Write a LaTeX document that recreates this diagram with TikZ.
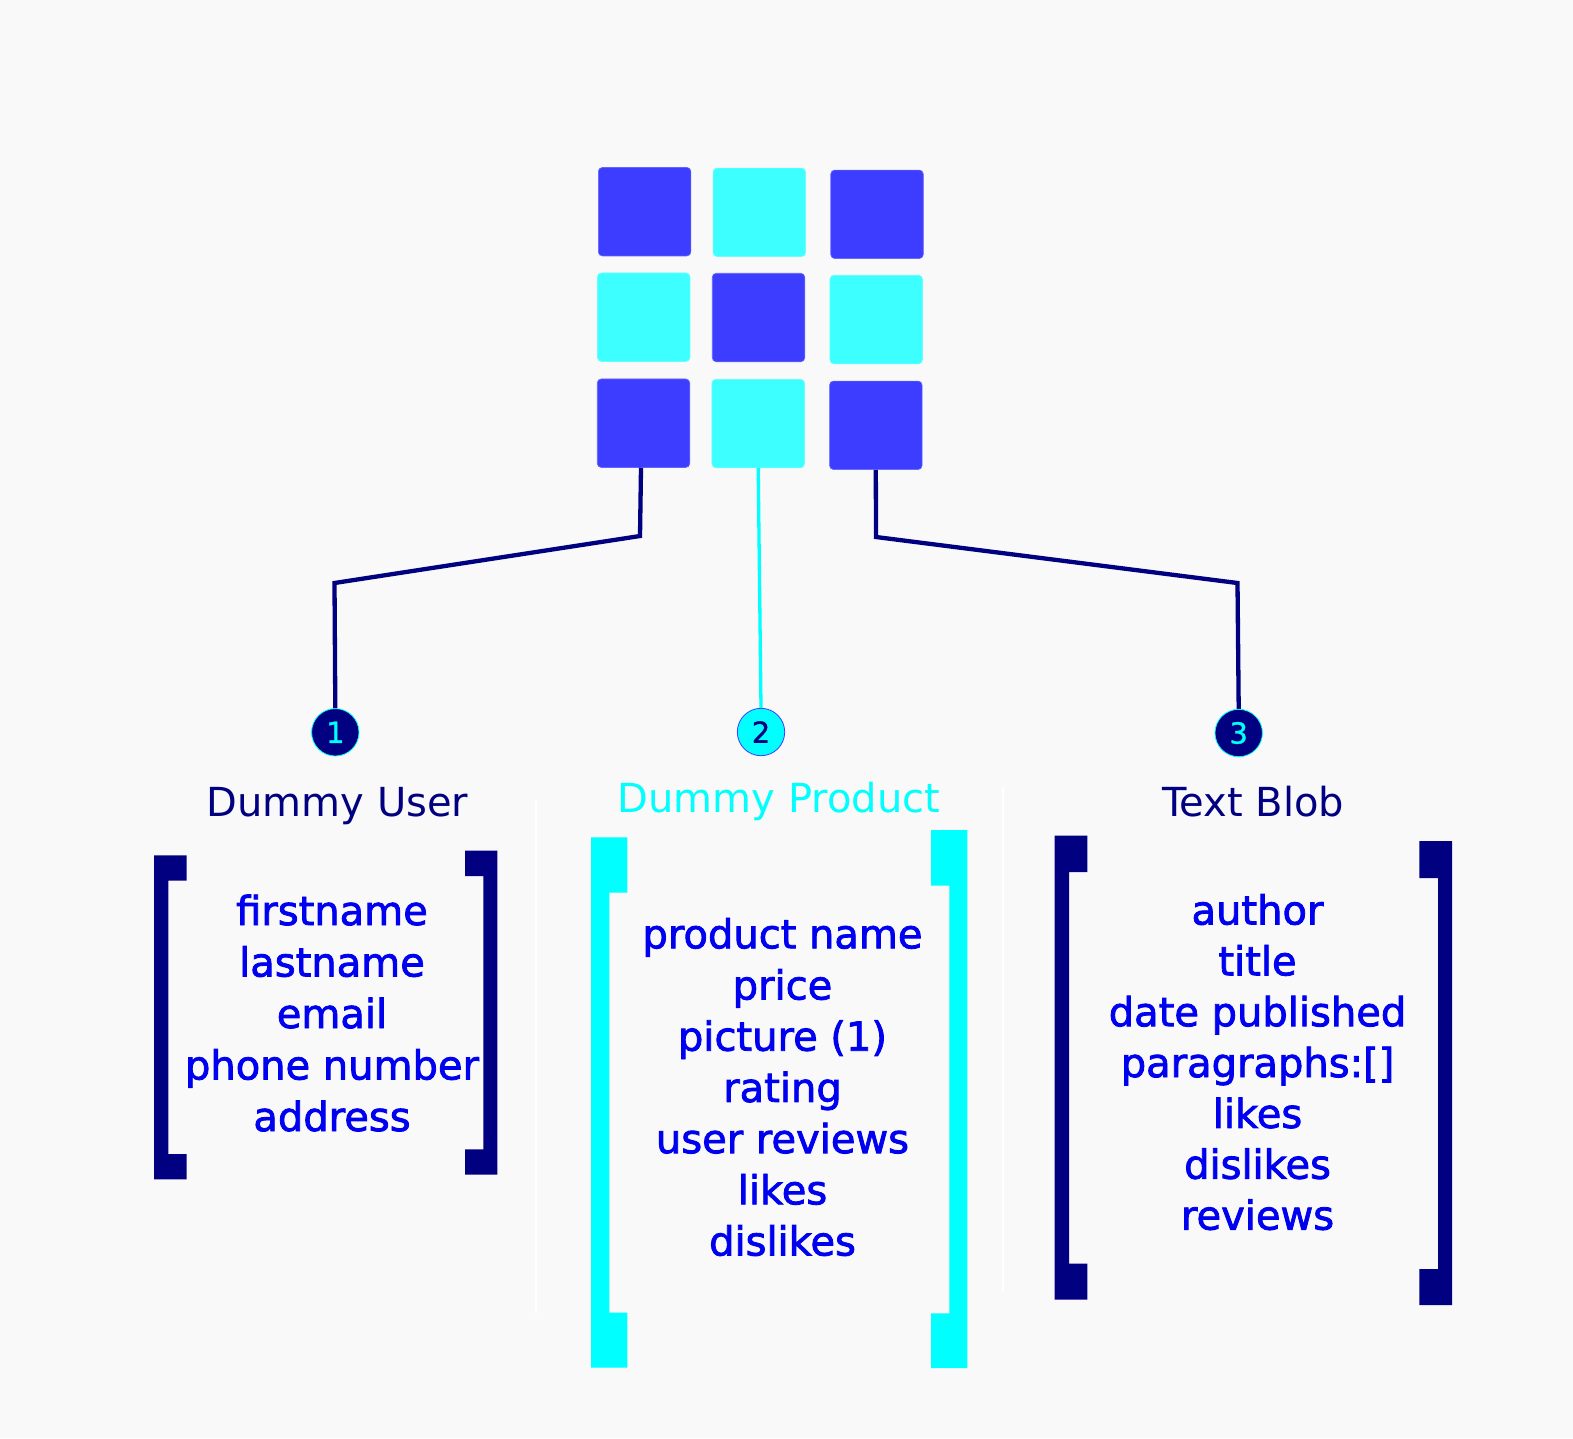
\documentclass[tikz,border=0pt]{standalone}
\usepackage{fontspec}
\setmainfont{DejaVu Sans}
\newfontfamily\listfont[FakeBold=2]{DejaVu Sans}
\newfontfamily\numfont[FakeBold=1]{DejaVu Sans}
\definecolor{bgc}{HTML}{F9F9F9}
\definecolor{sqdark}{HTML}{3D3DFF}
\definecolor{sqlight}{HTML}{3DFFFF}
\definecolor{navyc}{HTML}{000080}
\definecolor{cyanc}{HTML}{00FFFF}
\definecolor{itemc}{HTML}{0000F0}
\begin{document}
\begin{tikzpicture}[x=1pt,y=-1pt,
  sq/.style={inner sep=0pt, minimum width=92.5pt, minimum height=88.5pt, rounded corners=4pt},
  sqd/.style={sq, fill=sqdark, draw=sqdark!80!white, line width=0.6pt},
  sql/.style={sq, fill=sqlight, draw=sqlight!80!white, line width=0.6pt},
  conn/.style={draw=navyc, line width=4.3pt, line join=miter},
  conncyan/.style={draw=cyanc, line width=3.3pt},
  numdark/.style={circle, fill=navyc, draw=cyanc, line width=0.8pt, minimum size=47.4pt, inner sep=0pt, text=cyanc, font=\numfont\fontsize{29}{30}\selectfont},
  numlight/.style={circle, fill=cyanc, draw=sqdark, line width=0.8pt, minimum size=47.4pt, inner sep=0pt, text=navyc, font=\numfont\fontsize{29}{30}\selectfont},
  title/.style={anchor=base, inner sep=0pt, font=\fontsize{40}{44}\selectfont},
  item/.style={anchor=base, inner sep=0pt, text=itemc, font=\listfont\fontsize{40}{44}\selectfont},
  brk/.style={fill=navyc},
  brkc/.style={fill=cyanc}
]
\useasboundingbox (0,0) rectangle (1573,1438);
\fill[bgc] (0,0) rectangle (1573,1438);

% faint separator lines
\draw[white, line width=1.5pt] (536,800) -- (536,1313);
\draw[white, line width=1.5pt] (1003,787) -- (1003,1292);

% grid of squares
\node[sqd] (s1) at (644.6,211.7) {};
\node[sql] (s2) at (759.3,212.3) {};
\node[sqd] (s3) at (877.0,214.3) {};
\node[sql] (s4) at (643.7,317.2) {};
\node[sqd] (s5) at (758.5,317.5) {};
\node[sql] (s6) at (876.2,319.5) {};
\node[sqd] (s7) at (643.5,423.2) {};
\node[sql] (s8) at (758.2,423.5) {};
\node[sqd] (s9) at (875.8,425.3) {};

% numbered circles
\node[numdark]  (c1) at (335.3,732.3) {1};
\node[numlight] (c2) at (761.0,732.0) {2};
\node[numdark]  (c3) at (1238.7,733.0) {3};

% connectors
\draw[conn] ([xshift=-2.5pt]s7.south) -- (640,536) -- (334.5,583) -- (c1.north);
\draw[conncyan] (s8.south) -- (c2.north);
\draw[conn] (s9.south) -- (876,537) -- (1237.5,583) -- (c3.north);

% titles
\node[title, text=navyc] (t1) at (337.5,816.7) {Dummy User};
\node[title, text=cyanc] (t2) at (779,812.5) {Dummy Product};
\node[title, text=navyc] (t3) at (1253,816.6) {Text Blob};

% brackets: Dummy User
\fill[brk] (154,855.3) -- (186.7,855.3) -- (186.7,880.7) -- (168.3,880.7) -- (168.3,1154) -- (186.7,1154) -- (186.7,1179.3) -- (154,1179.3) -- cycle;
\fill[brk] (497.3,850.7) -- (465,850.7) -- (465,876) -- (483.3,876) -- (483.3,1149.3) -- (465,1149.3) -- (465,1174.7) -- (497.3,1174.7) -- cycle;
% brackets: Dummy Product
\fill[brkc] (591,837.4) -- (627.3,837.4) -- (627.3,892.5) -- (609.3,892.5) -- (609.3,1312.7) -- (627.3,1312.7) -- (627.3,1367.5) -- (591,1367.5) -- cycle;
\fill[brkc] (967.3,830) -- (931,830) -- (931,885.6) -- (949.3,885.6) -- (949.3,1313.4) -- (931,1313.4) -- (931,1368) -- (967.3,1368) -- cycle;
% brackets: Text Blob
\fill[brk] (1054.7,835.6) -- (1087.3,835.6) -- (1087.3,872) -- (1069,872) -- (1069,1263.6) -- (1087.3,1263.6) -- (1087.3,1299.6) -- (1054.7,1299.6) -- cycle;
\fill[brk] (1452,841) -- (1419.3,841) -- (1419.3,878) -- (1438,878) -- (1438,1269) -- (1419.3,1269) -- (1419.3,1305) -- (1452,1305) -- cycle;

% item lists
\foreach \t [count=\i] in {firstname,lastname,email,phone number,address}
  \node[item] (u\i) at (332,{925+51.5*(\i-1)}) {\t};
\foreach \t [count=\i] in {product name,price,picture (1),rating,user reviews,likes,dislikes}
  \node[item] (p\i) at (782.5,{948.3+51.2*(\i-1)}) {\t};
\foreach \t [count=\i] in {author,title,date published,{paragraphs:[]},likes,dislikes,reviews}
  \node[item] (b\i) at (1257.5,{924.5+50.85*(\i-1)}) {\t};
\end{tikzpicture}
\end{document}
